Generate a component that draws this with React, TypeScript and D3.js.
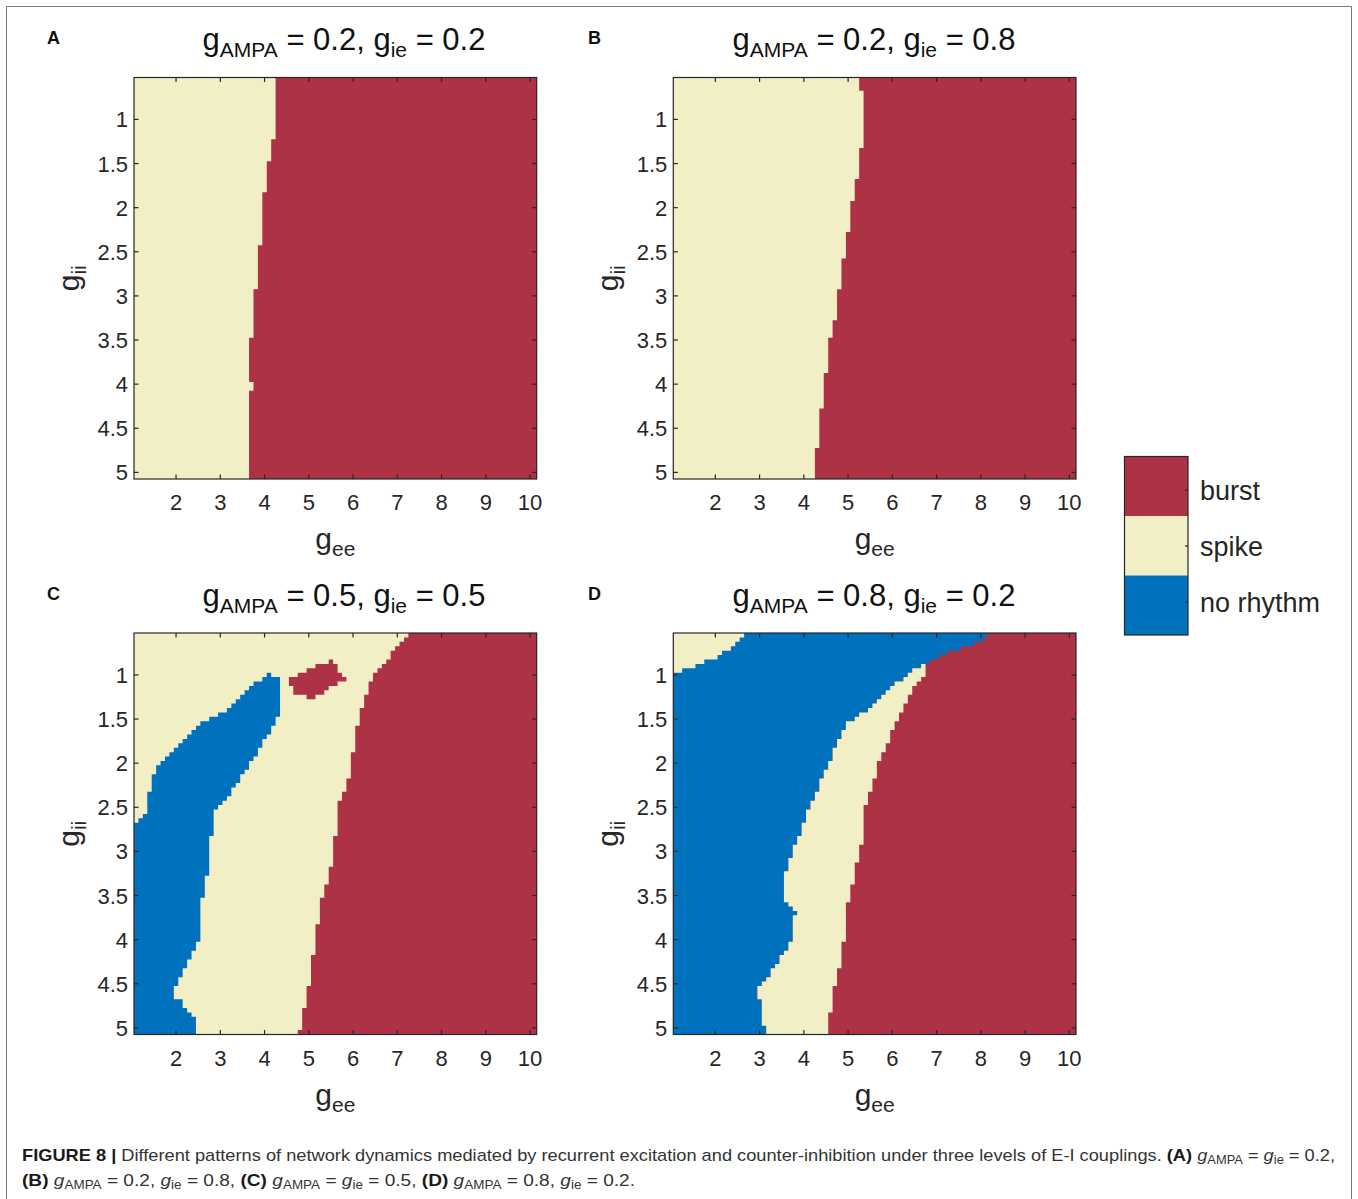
import React from 'react';
import * as d3 from 'd3';

// ---- axes ----
const GEE_DOMAIN: [number, number] = [1.05, 10.15];
const GII_DOMAIN: [number, number] = [0.525, 5.075];
const geeTicks = [2, 3, 4, 5, 6, 7, 8, 9, 10];
const giiTicks = [1, 1.5, 2, 2.5, 3, 3.5, 4, 4.5, 5];

// ---- categories ----
const categories = ['burst', 'spike', 'no rhythm'];
const categoryColors = ['#AE3246', '#F2EEC5', '#0072BD'];
const BURST = 0;
const SPIKE = 1;
const NONE = 2;

// ---- panel parameters ----
const panelLetters = ['A', 'B', 'C', 'D'];
const gAMPA = ['0.2', '0.2', '0.5', '0.8'];
const gIE = ['0.2', '0.8', '0.5', '0.2'];

// Row: [g_ii from, g_ii to, g_ee boundary]
type Row = [number, number, number];
// Span: [g_ii from, g_ii to, g_ee from, g_ee to]
type Span = [number, number, number, number];

// A: burst region starts at the boundary and runs to the right edge
const burstA: Row[] = [
  [0.525, 1.225, 4.25],
  [1.225, 1.475, 4.15],
  [1.475, 1.825, 4.05],
  [1.825, 2.425, 3.95],
  [2.425, 2.925, 3.85],
  [2.925, 3.475, 3.75],
  [3.475, 3.975, 3.65],
  [3.975, 4.075, 3.75],
  [4.075, 5.075, 3.65],
];

// B
const burstB: Row[] = [
  [0.525, 0.675, 5.25],
  [0.675, 1.325, 5.35],
  [1.325, 1.675, 5.25],
  [1.675, 1.925, 5.15],
  [1.925, 2.275, 5.05],
  [2.275, 2.575, 4.95],
  [2.575, 2.925, 4.85],
  [2.925, 3.275, 4.75],
  [3.275, 3.475, 4.65],
  [3.475, 3.875, 4.55],
  [3.875, 4.275, 4.45],
  [4.275, 4.725, 4.35],
  [4.725, 5.075, 4.25],
];

// C
const burstC: Row[] = [
  [0.525, 0.575, 7.25],
  [0.575, 0.625, 7.15],
  [0.625, 0.675, 7.05],
  [0.675, 0.725, 6.95],
  [0.725, 0.825, 6.85],
  [0.825, 0.875, 6.75],
  [0.875, 0.925, 6.65],
  [0.925, 0.975, 6.55],
  [0.975, 1.075, 6.45],
  [1.075, 1.225, 6.35],
  [1.225, 1.375, 6.25],
  [1.375, 1.575, 6.15],
  [1.575, 1.875, 6.05],
  [1.875, 2.175, 5.95],
  [2.175, 2.325, 5.85],
  [2.325, 2.425, 5.75],
  [2.425, 2.825, 5.65],
  [2.825, 3.175, 5.55],
  [3.175, 3.375, 5.45],
  [3.375, 3.525, 5.35],
  [3.525, 3.825, 5.25],
  [3.825, 4.175, 5.15],
  [4.175, 4.525, 5.05],
  [4.525, 4.775, 4.95],
  [4.775, 5.025, 4.85],
  [5.025, 5.075, 4.75],
];

const burstIslandC: Span[] = [
  [0.825, 0.875, 5.45, 5.55],
  [0.875, 0.925, 5.15, 5.65],
  [0.925, 0.975, 4.95, 5.65],
  [0.975, 1.025, 4.75, 5.75],
  [1.025, 1.075, 4.55, 5.85],
  [1.075, 1.125, 4.55, 5.65],
  [1.125, 1.175, 4.65, 5.45],
  [1.175, 1.225, 4.65, 5.35],
  [1.225, 1.275, 4.95, 5.15],
];

const noRhythmC: Span[] = [
  [0.975, 1.025, 4.05, 4.15],
  [1.025, 1.075, 3.95, 4.35],
  [1.075, 1.125, 3.75, 4.35],
  [1.125, 1.175, 3.65, 4.35],
  [1.175, 1.225, 3.55, 4.35],
  [1.225, 1.275, 3.45, 4.35],
  [1.275, 1.325, 3.35, 4.35],
  [1.325, 1.375, 3.25, 4.35],
  [1.375, 1.425, 3.15, 4.35],
  [1.425, 1.475, 2.95, 4.35],
  [1.475, 1.525, 2.75, 4.25],
  [1.525, 1.575, 2.55, 4.25],
  [1.575, 1.625, 2.45, 4.15],
  [1.625, 1.675, 2.35, 4.15],
  [1.675, 1.725, 2.25, 4.05],
  [1.725, 1.775, 2.15, 3.95],
  [1.775, 1.825, 2.05, 3.95],
  [1.825, 1.875, 1.95, 3.85],
  [1.875, 1.925, 1.85, 3.85],
  [1.925, 1.975, 1.75, 3.75],
  [1.975, 2.025, 1.65, 3.65],
  [2.025, 2.075, 1.55, 3.65],
  [2.075, 2.125, 1.55, 3.55],
  [2.125, 2.225, 1.45, 3.45],
  [2.225, 2.275, 1.45, 3.35],
  [2.275, 2.325, 1.45, 3.25],
  [2.325, 2.375, 1.35, 3.25],
  [2.375, 2.425, 1.35, 3.15],
  [2.425, 2.475, 1.35, 3.05],
  [2.475, 2.525, 1.35, 2.95],
  [2.525, 2.575, 1.35, 2.85],
  [2.575, 2.625, 1.25, 2.85],
  [2.625, 2.675, 1.15, 2.85],
  [2.675, 2.825, 1.05, 2.85],
  [2.825, 3.275, 1.05, 2.75],
  [3.275, 3.525, 1.05, 2.65],
  [3.525, 4.025, 1.05, 2.55],
  [4.025, 4.125, 1.05, 2.45],
  [4.125, 4.225, 1.05, 2.35],
  [4.225, 4.325, 1.05, 2.25],
  [4.325, 4.425, 1.05, 2.15],
  [4.425, 4.525, 1.05, 2.05],
  [4.525, 4.675, 1.05, 1.95],
  [4.675, 4.775, 1.05, 2.15],
  [4.775, 4.825, 1.05, 2.25],
  [4.825, 4.875, 1.05, 2.35],
  [4.875, 5.075, 1.05, 2.45],
];

// D: no rhythm from the left edge up to the boundary (upper rows, above the spike band)
const noRhythmTopD: Row[] = [
  [0.525, 0.575, 8.15],
  [0.575, 0.625, 8.05],
  [0.625, 0.675, 7.85],
  [0.675, 0.725, 7.55],
  [0.725, 0.775, 7.25],
  [0.775, 0.825, 7.05],
  [0.825, 0.875, 6.85],
];

// D: spike pocket in the upper-left corner, from the left edge to the boundary
const spikeCornerD: Row[] = [
  [0.525, 0.575, 2.65],
  [0.575, 0.625, 2.55],
  [0.625, 0.675, 2.45],
  [0.675, 0.725, 2.35],
  [0.725, 0.775, 2.15],
  [0.775, 0.825, 2.05],
  [0.825, 0.875, 1.75],
  [0.875, 0.925, 1.55],
  [0.925, 0.975, 1.25],
];

// D: spike band between no rhythm (left) and burst (right)
const spikeBandD: Span[] = [
  [0.875, 0.925, 6.65, 6.75],
  [0.925, 0.975, 6.45, 6.75],
  [0.975, 1.025, 6.35, 6.75],
  [1.025, 1.075, 6.25, 6.65],
  [1.075, 1.125, 6.05, 6.55],
  [1.125, 1.175, 5.95, 6.45],
  [1.175, 1.225, 5.85, 6.45],
  [1.225, 1.275, 5.75, 6.35],
  [1.275, 1.325, 5.65, 6.35],
  [1.325, 1.375, 5.55, 6.25],
  [1.375, 1.425, 5.45, 6.25],
  [1.425, 1.475, 5.25, 6.15],
  [1.475, 1.525, 5.15, 6.15],
  [1.525, 1.625, 4.95, 6.05],
  [1.625, 1.725, 4.85, 5.95],
  [1.725, 1.775, 4.75, 5.95],
  [1.775, 1.825, 4.75, 5.85],
  [1.825, 1.875, 4.65, 5.85],
  [1.875, 1.975, 4.65, 5.75],
  [1.975, 2.075, 4.55, 5.65],
  [2.075, 2.175, 4.45, 5.65],
  [2.175, 2.325, 4.35, 5.55],
  [2.325, 2.425, 4.25, 5.45],
  [2.425, 2.475, 4.15, 5.45],
  [2.475, 2.525, 4.15, 5.35],
  [2.525, 2.675, 4.05, 5.35],
  [2.675, 2.825, 3.95, 5.35],
  [2.825, 2.925, 3.85, 5.35],
  [2.925, 3.075, 3.75, 5.25],
  [3.075, 3.125, 3.65, 5.25],
  [3.125, 3.225, 3.65, 5.15],
  [3.225, 3.375, 3.55, 5.15],
  [3.375, 3.575, 3.55, 5.05],
  [3.575, 3.625, 3.65, 4.95],
  [3.625, 3.675, 3.75, 4.95],
  [3.675, 3.725, 3.85, 4.95],
  [3.725, 4.025, 3.75, 4.95],
  [4.025, 4.125, 3.65, 4.85],
  [4.125, 4.175, 3.55, 4.85],
  [4.175, 4.275, 3.45, 4.85],
  [4.275, 4.325, 3.35, 4.85],
  [4.325, 4.425, 3.25, 4.75],
  [4.425, 4.475, 3.15, 4.75],
  [4.475, 4.525, 3.05, 4.75],
  [4.525, 4.675, 2.95, 4.65],
  [4.675, 4.825, 3.05, 4.65],
  [4.825, 4.975, 3.05, 4.55],
  [4.975, 5.075, 3.15, 4.55],
];

const [GEE_MIN, GEE_MAX] = GEE_DOMAIN;
const toRight = (rows: Row[]): Span[] => rows.map(([a, b, e]) => [a, b, e, GEE_MAX]);
const fromLeft = (rows: Row[]): Span[] => rows.map(([a, b, e]) => [a, b, GEE_MIN, e]);

type Layer = { cat: number; spans: Span[] };
type PanelSpec = { base: number; layers: Layer[] };

const panels: PanelSpec[] = [
  { base: SPIKE, layers: [{ cat: BURST, spans: toRight(burstA) }] },
  { base: SPIKE, layers: [{ cat: BURST, spans: toRight(burstB) }] },
  {
    base: SPIKE,
    layers: [
      { cat: NONE, spans: noRhythmC },
      { cat: BURST, spans: burstIslandC },
      { cat: BURST, spans: toRight(burstC) },
    ],
  },
  {
    base: BURST,
    layers: [
      {
        cat: NONE,
        spans: fromLeft(noRhythmTopD).concat(spikeBandD.map(([a, b, l]) => [a, b, GEE_MIN, l] as Span)),
      },
      { cat: SPIKE, spans: spikeBandD },
      { cat: SPIKE, spans: fromLeft(spikeCornerD) },
    ],
  },
];

// ---- layout ----
const PW = 402.7;
const PH = 401.5;
const panelOrigins: [number, number][] = [
  [134, 77.5],
  [673.3, 77.5],
  [134, 633],
  [673.3, 633],
];
const titleCenters = [344, 874, 344, 874];

const FONT = "'Liberation Sans', Arial, Helvetica, sans-serif";
const AXIS_COLOR = '#262626';
const TICK = 4.5;

function Panel({ idx }: { idx: number }) {
  const spec = panels[idx];
  const [x0, y0] = panelOrigins[idx];
  const xs = d3.scaleLinear().domain(GEE_DOMAIN).range([x0, x0 + PW]);
  const ys = d3.scaleLinear().domain(GII_DOMAIN).range([y0, y0 + PH]);
  const spanPath = (spans: Span[]) =>
    spans
      .map(([a, b, c, d]) => `M${xs(c)},${ys(a)}H${xs(d)}V${ys(b)}H${xs(c)}Z`)
      .join('');
  const bottom = y0 + PH;
  const right = x0 + PW;
  const tx = titleCenters[idx];
  const letterX = idx % 2 === 0 ? 47 : 588;
  return (
    <g>
      <rect x={x0} y={y0} width={PW} height={PH} fill={categoryColors[spec.base]} />
      {spec.layers.map((layer, i) => (
        <path key={i} d={spanPath(layer.spans)} fill={categoryColors[layer.cat]} />
      ))}
      {/* box */}
      <rect x={x0} y={y0} width={PW} height={PH} fill="none" stroke={AXIS_COLOR} strokeWidth={1.2} />
      {/* ticks */}
      {geeTicks.map((t) => (
        <g key={'x' + t}>
          <line x1={xs(t)} x2={xs(t)} y1={bottom} y2={bottom - TICK} stroke={AXIS_COLOR} strokeWidth={1.2} />
          <line x1={xs(t)} x2={xs(t)} y1={y0} y2={y0 + TICK} stroke={AXIS_COLOR} strokeWidth={1.2} />
          <text x={xs(t)} y={bottom + 31} textAnchor="middle" fontSize={22} fill={AXIS_COLOR} fontFamily={FONT}>
            {t}
          </text>
        </g>
      ))}
      {giiTicks.map((t) => (
        <g key={'y' + t}>
          <line x1={x0} x2={x0 + TICK} y1={ys(t)} y2={ys(t)} stroke={AXIS_COLOR} strokeWidth={1.2} />
          <line x1={right} x2={right - TICK} y1={ys(t)} y2={ys(t)} stroke={AXIS_COLOR} strokeWidth={1.2} />
          <text x={x0 - 6} y={ys(t) + 8} textAnchor="end" fontSize={22} fill={AXIS_COLOR} fontFamily={FONT}>
            {t}
          </text>
        </g>
      ))}
      {/* x label */}
      <text x={x0 + PW / 2} y={bottom + 70} textAnchor="middle" fontSize={30} fill={AXIS_COLOR} fontFamily={FONT}>
        <tspan>g</tspan>
        <tspan fontSize={21} dy={7}>ee</tspan>
      </text>
      {/* y label */}
      <text
        transform={`translate(${x0 - 55},${y0 + PH / 2}) rotate(-90)`}
        textAnchor="middle"
        fontSize={30}
        fill={AXIS_COLOR}
        fontFamily={FONT}
      >
        <tspan>g</tspan>
        <tspan fontSize={21} dy={7}>ii</tspan>
      </text>
      {/* title */}
      <text x={tx} y={y0 - 27.5} textAnchor="middle" fontSize={31} fill="#111" fontFamily={FONT}>
        <tspan>g</tspan>
        <tspan fontSize={21} dy={7}>AMPA</tspan>
        <tspan dy={-7}>{` = ${gAMPA[idx]}, g`}</tspan>
        <tspan fontSize={21} dy={7}>ie</tspan>
        <tspan dy={-7}>{` = ${gIE[idx]}`}</tspan>
      </text>
      {/* panel letter */}
      <text x={letterX} y={y0 - 33.5} fontSize={18} fontWeight="bold" fill="#111" fontFamily={FONT}>
        {panelLetters[idx]}
      </text>
    </g>
  );
}

// ---- legend ----
const LEG_X = 1124.5;
const LEG_Y = 456.5;
const LEG_W = 63.5;
const LEG_H = 178.5;
const legendTickY = [490, 546, 602];

function Legend() {
  const band = LEG_H / categories.length;
  return (
    <g>
      {categories.map((c, i) => (
        <rect key={c} x={LEG_X} y={LEG_Y + i * band} width={LEG_W} height={band} fill={categoryColors[i]} />
      ))}
      <rect x={LEG_X} y={LEG_Y} width={LEG_W} height={LEG_H} fill="none" stroke={AXIS_COLOR} strokeWidth={1.2} />
      {categories.map((c, i) => (
        <g key={c}>
          <line
            x1={LEG_X + LEG_W}
            x2={LEG_X + LEG_W - 3}
            y1={legendTickY[i]}
            y2={legendTickY[i]}
            stroke={AXIS_COLOR}
            strokeWidth={1.2}
          />
          <text x={LEG_X + LEG_W + 12} y={legendTickY[i] + 10} fontSize={27} fill={AXIS_COLOR} fontFamily={FONT}>
            {c}
          </text>
        </g>
      ))}
    </g>
  );
}

// ---- caption ----
const CAP_FONT = 17;
const SUB = 12;
const SUB_SHIFT = 3;

// caption pieces: plain text, bold text, or an italic g with an upright subscript
type Piece = { t: string; kind: 'text' | 'bold' | 'g' };
const captionLine1: Piece[] = [
  { t: 'FIGURE 8 |', kind: 'bold' },
  {
    t: ' Different patterns of network dynamics mediated by recurrent excitation and counter-inhibition under three levels of E-I couplings. ',
    kind: 'text',
  },
  { t: '(A)', kind: 'bold' },
  { t: ' ', kind: 'text' },
  { t: 'AMPA', kind: 'g' },
  { t: ' = ', kind: 'text' },
  { t: 'ie', kind: 'g' },
  { t: ' = 0.2,', kind: 'text' },
];
const captionLine2: Piece[] = [
  { t: '(B)', kind: 'bold' },
  { t: ' ', kind: 'text' },
  { t: 'AMPA', kind: 'g' },
  { t: ' = 0.2, ', kind: 'text' },
  { t: 'ie', kind: 'g' },
  { t: ' = 0.8, ', kind: 'text' },
  { t: '(C)', kind: 'bold' },
  { t: ' ', kind: 'text' },
  { t: 'AMPA', kind: 'g' },
  { t: ' = ', kind: 'text' },
  { t: 'ie', kind: 'g' },
  { t: ' = 0.5, ', kind: 'text' },
  { t: '(D)', kind: 'bold' },
  { t: ' ', kind: 'text' },
  { t: 'AMPA', kind: 'g' },
  { t: ' = 0.8, ', kind: 'text' },
  { t: 'ie', kind: 'g' },
  { t: ' = 0.2.', kind: 'text' },
];

function renderPieces(pieces: Piece[]) {
  const out: React.ReactNode[] = [];
  let lowered = false;
  pieces.forEach((p, i) => {
    const back = lowered ? -SUB_SHIFT : undefined;
    if (p.kind === 'g') {
      out.push(
        <tspan key={i + 'g'} fontStyle="italic" dy={back}>
          g
        </tspan>
      );
      out.push(
        <tspan key={i + 's'} fontSize={SUB} dy={SUB_SHIFT}>
          {p.t}
        </tspan>
      );
      lowered = true;
    } else {
      out.push(
        <tspan
          key={i}
          dy={back}
          fontWeight={p.kind === 'bold' ? 'bold' : undefined}
          fill={p.kind === 'bold' ? '#1a1a1a' : undefined}
        >
          {p.t}
        </tspan>
      );
      lowered = false;
    }
  });
  return out;
}

function Caption() {
  return (
    <g fontFamily={FONT} fontSize={CAP_FONT} fill="#333" style={{ whiteSpace: 'pre' }}>
      <text x={22} y={1161} textLength={1313} lengthAdjust="spacingAndGlyphs">
        {renderPieces(captionLine1)}
      </text>
      <text x={22} y={1186} textLength={613} lengthAdjust="spacingAndGlyphs">
        {renderPieces(captionLine2)}
      </text>
    </g>
  );
}

export default function App() {
  return (
    <svg
      width={1358}
      height={1199}
      viewBox="0 0 1358 1199"
      style={{ position: 'absolute', left: 0, top: 0, background: '#fff' }}
    >
      <rect x={0} y={0} width={1358} height={1199} fill="#fff" />
      <path d="M6.5,1199V6.5H1351.5V1199" fill="none" stroke="#7a7a7a" strokeWidth={1} />
      {panels.map((_, i) => (
        <Panel key={i} idx={i} />
      ))}
      <Legend />
      <Caption />
    </svg>
  );
}
